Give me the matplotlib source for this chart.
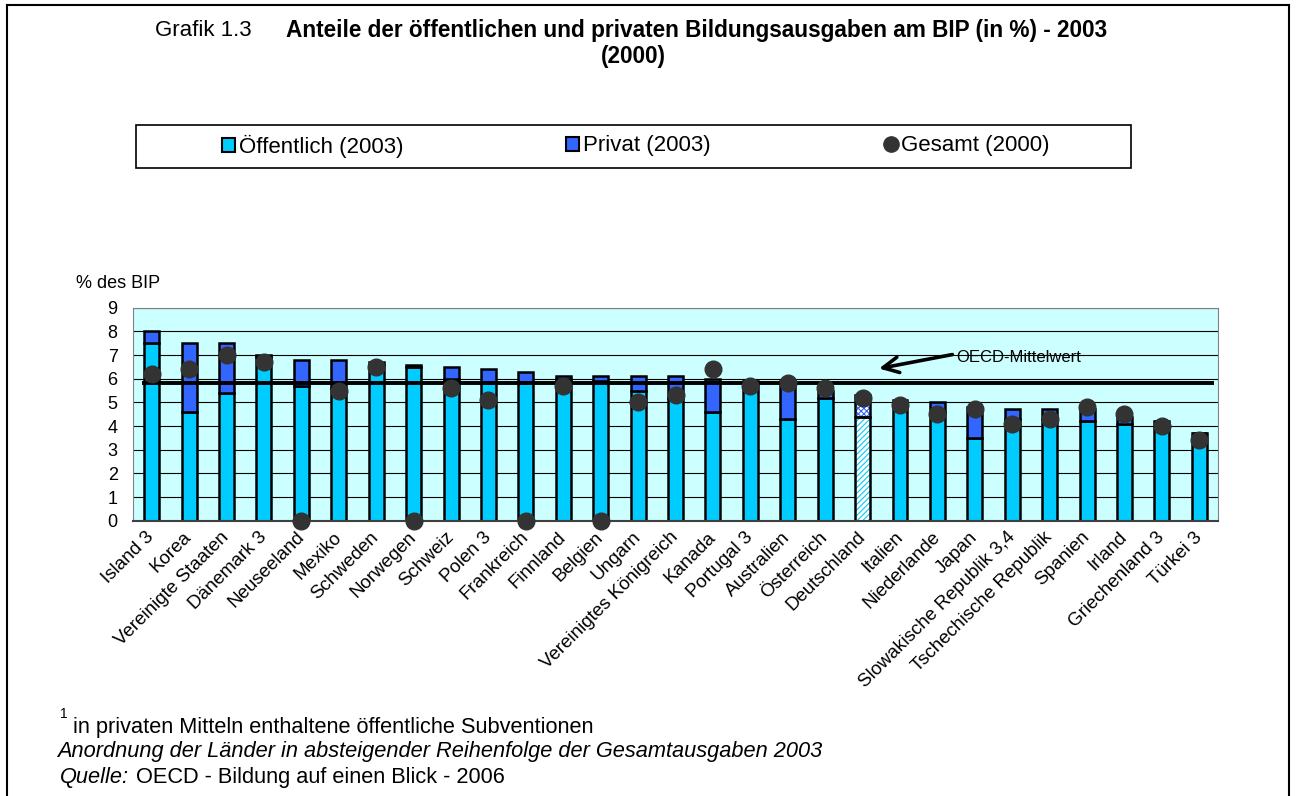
import numpy as np
import matplotlib.pyplot as plt
from matplotlib.patches import Patch, Rectangle
from matplotlib.lines import Line2D

plt.rcParams["font.family"] = ["Liberation Sans", "DejaVu Sans"]

# Data (% des BIP)
countries = ["Island 3", "Korea", "Vereinigte Staaten", "Dänemark 3", "Neuseeland",
             "Mexiko", "Schweden", "Norwegen", "Schweiz", "Polen 3", "Frankreich",
             "Finnland", "Belgien", "Ungarn", "Vereinigtes Königreich", "Kanada",
             "Portugal 3", "Australien", "Österreich", "Deutschland", "Italien",
             "Niederlande", "Japan", "Slowakische Republik 3,4", "Tschechische Republik",
             "Spanien", "Irland", "Griechenland 3", "Türkei 3"]
public_2003 = [7.5, 4.6, 5.4, 6.9, 5.7, 5.6, 6.6, 6.5, 6.0, 5.8, 5.8, 6.0, 5.9, 5.5, 5.2,
               4.6, 5.9, 4.3, 5.2, 4.4, 4.9, 4.6, 3.5, 4.3, 4.3, 4.2, 4.1, 4.2, 3.7]
private_2003 = [0.5, 2.9, 2.1, 0.1, 1.1, 1.2, 0.1, 0.1, 0.5, 0.6, 0.5, 0.1, 0.2, 0.6, 0.9,
                1.4, 0.0, 1.6, 0.3, 0.9, 0.2, 0.4, 1.3, 0.4, 0.4, 0.5, 0.3, 0.0, 0.0]
total_2000 = [6.2, 6.4, 7.0, 6.7, 0.0, 5.5, 6.5, 0.0, 5.6, 5.1, 0.0, 5.7, 0.0, 5.0, 5.3,
              6.4, 5.7, 5.8, 5.6, 5.2, 4.9, 4.5, 4.7, 4.1, 4.3, 4.8, 4.5, 4.0, 3.4]
oecd_mean = 5.8
hatched_country = "Deutschland"

CYAN = "#00CCFF"
BLUE = "#3366FF"
BG = "#CCFFFF"
DOT = "#333333"

W, H = 1298, 796
fig = plt.figure(figsize=(W / 100, H / 100), dpi=100)
ax = fig.add_axes([133 / W, 1 - 520.7 / H, (1218 - 133) / W, (520.7 - 307.7) / H])
ax.set_facecolor(BG)

x = np.arange(len(countries))
public = np.array(public_2003)
private = np.array(private_2003)
de = countries.index(hatched_country)
normal = x != de
bw = 0.4

# normal stacked bars
ax.bar(x[normal], public[normal], width=bw, color=CYAN, edgecolor="black", linewidth=1.8, zorder=2)
ax.bar(x[normal], private[normal], bottom=public[normal], width=bw, color=BLUE,
       edgecolor="black", linewidth=1.8, zorder=2)

# hatched bar (public subsidies contained in private funds)
plt.rcParams["hatch.linewidth"] = 0.8
ax.bar(x[de], public[de], width=bw, color="white", edgecolor=CYAN, hatch="//////", linewidth=0, zorder=2)
ax.bar(x[de], private[de], bottom=public[de], width=bw, color="white", edgecolor=BLUE,
       hatch="xxxxxx", linewidth=0, zorder=2)
ax.bar(x[de], public[de], width=bw, fill=False, edgecolor="black", linewidth=1.8, zorder=2.1)
ax.bar(x[de], private[de], bottom=public[de], width=bw, fill=False, edgecolor="black",
       linewidth=1.8, zorder=2.1)

# OECD mean line
ax.hlines(oecd_mean, -0.27, 28.4, color="black", linewidth=2.8, zorder=3)

# total 2000 dots
ax.plot(x, total_2000, "o", linestyle="none", markersize=12, color=DOT, zorder=4, clip_on=False)

ax.annotate("", xy=(19.44, 6.43), xytext=(21.4, 7.02),
            arrowprops=dict(arrowstyle="->", lw=2.6, color="black", mutation_scale=28,
                            shrinkA=0, shrinkB=0), zorder=5)
ax.text(21.5, 6.88, "OECD-Mittelwert", fontsize=12, va="center", ha="left", zorder=5)

ax.set_xlim(-0.5, len(countries) - 0.5)
ax.set_ylim(0, 9)
ax.set_yticks(range(10))
ax.yaxis.grid(True, color="black", linewidth=0.8)
ax.set_axisbelow(True)
ax.set_xticks(x)
ax.set_xticklabels(countries, rotation=45, ha="right", va="center", rotation_mode="anchor")
ax.tick_params(axis="x", length=0, labelsize=13.5, pad=10)
ax.tick_params(axis="y", length=0, labelsize=13, pad=11)
for side in ["left", "top", "right"]:
    ax.spines[side].set_color("#808080")
ax.spines["bottom"].set_color("#404040")
ax.spines["bottom"].set_linewidth(1.5)

fig.text(76 / W, 1 - 283 / H, "% des BIP", fontsize=13, ha="left", va="center")

# title
fig.text(155 / W, 1 - 30 / H, "Grafik 1.3", fontsize=16, ha="left", va="center")
fig.text(286 / W, 1 - 30 / H, "Anteile der öffentlichen und privaten Bildungsausgaben am BIP (in %) - 2003",
         fontsize=16.3, fontweight="bold", ha="left", va="center")
fig.text(633 / W, 1 - 57 / H, "(2000)", fontsize=16.3, fontweight="bold", ha="center", va="center")

# legend box with three entries
fig.add_artist(Rectangle((136 / W, 1 - 167.7 / H), (1131 - 136) / W, 42.7 / H,
                         transform=fig.transFigure, fill=False, edgecolor="black", linewidth=1.2))
entries = [
    (Patch(facecolor=CYAN, edgecolor="black", linewidth=1.5), "Öffentlich (2003)", 222),
    (Patch(facecolor=BLUE, edgecolor="black", linewidth=1.5), "Privat (2003)", 566),
    (Line2D([], [], marker="o", linestyle="none", color=DOT, markersize=11), "Gesamt (2000)", 884),
]
for handle, label, xpos in entries:
    fig.legend(handles=[handle], labels=[label], loc="center left",
               bbox_to_anchor=(xpos / W, 1 - 146 / H), frameon=False, fontsize=16,
               handlelength=0.6, handleheight=0.6, handletextpad=0.15,
               borderpad=0, borderaxespad=0)

# footnotes
fig.text(60 / W, 1 - 714 / H, "1", fontsize=10, ha="left", va="center")
fig.text(73 / W, 1 - 727.5 / H, "in privaten Mitteln enthaltene öffentliche Subventionen",
         fontsize=15.7, ha="left", va="center")
fig.text(57 / W, 1 - 752 / H,
         "Anordnung der Länder in absteigender Reihenfolge der Gesamtausgaben 2003",
         fontsize=15.7, style="italic", ha="left", va="center")
fig.text(60 / W, 1 - 777 / H, "Quelle:", fontsize=15.7, style="italic", ha="left", va="center")
fig.text(136 / W, 1 - 777 / H, "OECD - Bildung auf einen Blick - 2006", fontsize=15.7,
         ha="left", va="center")

# outer frame
fig.add_artist(Line2D([7 / W, 7 / W], [0, 1 - 5 / H], transform=fig.transFigure, color="black", lw=1.5))
fig.add_artist(Line2D([7 / W, 1289 / W], [1 - 5 / H, 1 - 5 / H], transform=fig.transFigure,
                      color="black", lw=1.5))
fig.add_artist(Line2D([1289 / W, 1289 / W], [0, 1 - 5 / H], transform=fig.transFigure,
                      color="black", lw=1.5))

fig.savefig("out.png", dpi=100)
